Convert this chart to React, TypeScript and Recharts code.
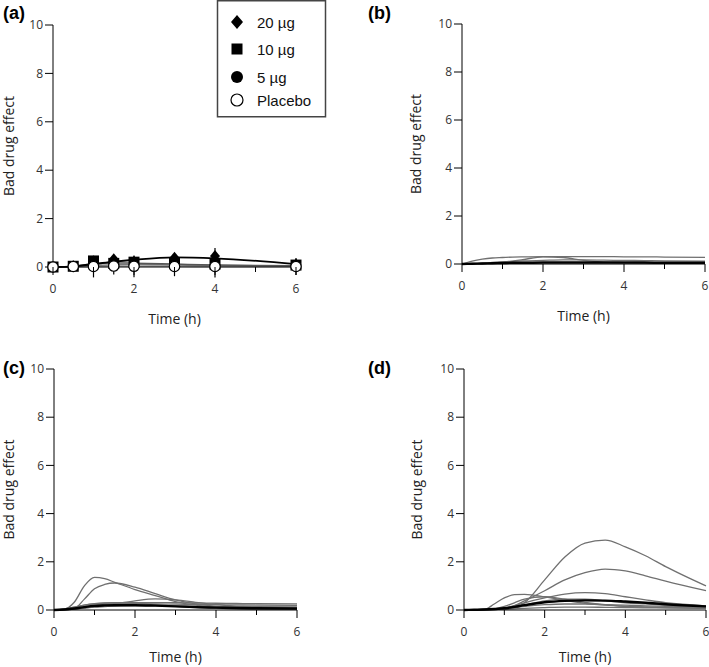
import React from 'react';
import { LineChart, Line, XAxis, YAxis, ReferenceLine, Label } from 'recharts';

// ---------- Panel (a): observed means and model fits ----------
const timesA = [0, 0.5, 1, 1.5, 2, 3, 4, 6];
const fit20 = [0, 0.03, 0.12, 0.22, 0.3, 0.4, 0.36, 0.12];
const fit10 = [0, 0.02, 0.14, 0.17, 0.16, 0.12, 0.08, 0.05];
const fit5 = [0, 0.02, 0.07, 0.09, 0.1, 0.08, 0.06, 0.04];
const fitPlacebo = [0, 0.01, 0.02, 0.03, 0.03, 0.03, 0.02, 0.02];
const obs20 = [0, 0.03, 0.15, 0.32, 0.22, 0.38, 0.45, 0.1];
const err20 = [0, 0, 0.1, 0.12, 0.1, 0.15, 0.33, 0.05];
const obs10 = [0, 0.03, 0.25, 0.15, 0.2, 0.15, 0.12, 0.08];
const obs5 = [0, 0.02, 0.1, 0.2, 0.12, 0.18, 0.2, 0.05];
const obsPlacebo = [0, 0.02, 0.02, 0.04, 0.03, 0.02, 0.02, 0.02];
const errPlacebo = [0, 0, 0.45, 0.35, 0.45, 0.4, 0.45, 0.35];

// ---------- Panels (b)-(d): simulated individual curves ----------
const timesSim = [0, 0.25, 0.5, 0.75, 1, 1.25, 1.5, 2, 2.5, 3, 3.5, 4, 4.5, 5, 6];

const b1 = [0, 0.12, 0.2, 0.25, 0.27, 0.29, 0.3, 0.31, 0.31, 0.31, 0.31, 0.3, 0.3, 0.29, 0.28];
const b2 = [0, 0.01, 0.02, 0.04, 0.07, 0.12, 0.18, 0.3, 0.27, 0.15, 0.08, 0.06, 0.05, 0.05, 0.04];
const b3 = [0, 0.02, 0.04, 0.07, 0.09, 0.11, 0.13, 0.15, 0.17, 0.17, 0.16, 0.15, 0.14, 0.13, 0.12];
const bMean = [0, 0.01, 0.02, 0.03, 0.04, 0.05, 0.05, 0.06, 0.06, 0.06, 0.06, 0.06, 0.06, 0.05, 0.05];

const c1 = [0, 0.03, 0.32, 1.0, 1.35, 1.3, 1.15, 0.85, 0.6, 0.35, 0.2, 0.1, 0.07, 0.05, 0.04];
const c2 = [0, 0.01, 0.06, 0.45, 0.88, 1.06, 1.12, 0.95, 0.68, 0.42, 0.25, 0.15, 0.1, 0.07, 0.05];
const c3 = [0, 0.01, 0.04, 0.08, 0.13, 0.18, 0.25, 0.38, 0.46, 0.42, 0.32, 0.22, 0.16, 0.12, 0.08];
const c4 = [0, 0.05, 0.12, 0.2, 0.25, 0.28, 0.3, 0.31, 0.31, 0.3, 0.29, 0.28, 0.27, 0.26, 0.25];
const c5 = [0, 0.03, 0.07, 0.14, 0.2, 0.23, 0.25, 0.26, 0.25, 0.24, 0.23, 0.22, 0.21, 0.2, 0.19];
const c6 = [0, 0.02, 0.05, 0.09, 0.12, 0.14, 0.16, 0.18, 0.18, 0.17, 0.16, 0.15, 0.14, 0.14, 0.13];
const c7 = [0, 0.04, 0.12, 0.2, 0.26, 0.29, 0.3, 0.28, 0.22, 0.15, 0.1, 0.07, 0.05, 0.04, 0.03];
const cMean = [0, 0.02, 0.06, 0.12, 0.17, 0.19, 0.2, 0.2, 0.18, 0.15, 0.12, 0.1, 0.08, 0.07, 0.06];

const d1 = [0, 0.01, 0.02, 0.03, 0.04, 0.07, 0.3, 1.25, 2.2, 2.78, 2.9, 2.62, 2.25, 1.8, 1.0];
const d2 = [0, 0.01, 0.01, 0.02, 0.05, 0.18, 0.38, 0.8, 1.25, 1.55, 1.7, 1.62, 1.42, 1.2, 0.8];
const d3 = [0, 0.01, 0.01, 0.03, 0.08, 0.18, 0.3, 0.5, 0.66, 0.72, 0.68, 0.55, 0.42, 0.3, 0.17];
const d4 = [0, 0.01, 0.02, 0.25, 0.5, 0.64, 0.65, 0.55, 0.4, 0.28, 0.2, 0.15, 0.12, 0.1, 0.07];
const d5 = [0, 0.01, 0.02, 0.05, 0.15, 0.3, 0.45, 0.55, 0.45, 0.32, 0.22, 0.15, 0.12, 0.1, 0.07];
const d6 = [0, 0.01, 0.02, 0.04, 0.08, 0.13, 0.2, 0.38, 0.45, 0.45, 0.38, 0.3, 0.25, 0.2, 0.15];
const d7 = [0, 0.01, 0.02, 0.03, 0.05, 0.1, 0.15, 0.22, 0.25, 0.25, 0.22, 0.2, 0.17, 0.15, 0.12];
const d8 = [0, 0.01, 0.01, 0.02, 0.03, 0.05, 0.07, 0.1, 0.12, 0.12, 0.11, 0.1, 0.09, 0.09, 0.08];
const dMean = [0, 0.01, 0.02, 0.04, 0.07, 0.13, 0.2, 0.32, 0.38, 0.4, 0.39, 0.35, 0.3, 0.24, 0.15];

const xTicks = [0, 1, 2, 3, 4, 5, 6];
const yTicks = [0, 2, 4, 6, 8, 10];
const legendLabels = ['20 µg', '10 µg', '5 µg', 'Placebo'];
const panelLabels = ['(a)', '(b)', '(c)', '(d)'];

const build = (times: number[], series: Record<string, number[]>) =>
  times.map((t, i) => {
    const o: any = { t };
    Object.keys(series).forEach((k) => (o[k] = series[k][i]));
    return o;
  });

const dataA = build(timesA, { fit20, fit10, fit5, fitPlacebo, obs20, obs10, obs5, obsPlacebo });
const dataB = build(timesSim, { b1, b2, b3, bMean });
const dataC = build(timesSim, { c1, c2, c3, c4, c5, c6, c7, cMean });
const dataD = build(timesSim, { d1, d2, d3, d4, d5, d6, d7, d8, dMean });

const AXIS_FONT = "'Open Sans', sans-serif";
const GRAY = '#707070';

function XTick(props: any) {
  const { x, y, payload } = props;
  const v = payload.value;
  const major = v % 2 === 0;
  return (
    <g>
      <line x1={x} x2={x} y1={y} y2={y + (major ? 8 : 5)} stroke="#000" strokeWidth={1} />
      {major && (
        <text x={x} y={y + 26} textAnchor="middle" fontSize={12} fill="#333" fontFamily={AXIS_FONT}>
          {v}
        </text>
      )}
    </g>
  );
}

function axes(xHeight: number, xLabelOffset: number, yLabelOffset: number) {
  return [
    <XAxis
      key="x"
      dataKey="t"
      type="number"
      domain={[0, 6]}
      ticks={xTicks}
      interval={0}
      tickSize={0}
      tickMargin={0}
      tickLine={false}
      tick={<XTick />}
      axisLine={{ stroke: '#000' }}
      height={xHeight}
    >
      <Label
        value="Time (h)"
        position="insideBottom"
        offset={xLabelOffset}
        style={{ fontSize: 14, fontFamily: AXIS_FONT, fill: '#222' }}
      />
    </XAxis>,
    <YAxis
      key="y"
      type="number"
      domain={[0, 10]}
      ticks={yTicks}
      interval={0}
      tickSize={8}
      tickMargin={2}
      width={45}
      tickLine={{ stroke: '#000' }}
      axisLine={{ stroke: '#000' }}
      tick={{ fontSize: 12, fill: '#333', fontFamily: AXIS_FONT }}
    >
      <Label
        value="Bad drug effect"
        angle={-90}
        position="insideLeft"
        offset={yLabelOffset}
        style={{ textAnchor: 'middle', fontSize: 14, fontFamily: AXIS_FONT, fill: '#222' }}
      />
    </YAxis>,
  ];
}

const diamondDot = (p: any) =>
  p.cx == null ? <g key={`dd${p.index}`} /> : (
    <path
      key={`dd${p.index}`}
      d={`M${p.cx},${p.cy - 6}L${p.cx + 5},${p.cy}L${p.cx},${p.cy + 6}L${p.cx - 5},${p.cy}Z`}
      fill="#000"
    />
  );
const squareDot = (p: any) =>
  p.cx == null ? <g key={`sd${p.index}`} /> : (
    <rect key={`sd${p.index}`} x={p.cx - 5.5} y={p.cy - 5.5} width={11} height={11} fill="#000" />
  );
const circleDot = (p: any) =>
  p.cx == null ? <g key={`cd${p.index}`} /> : <circle key={`cd${p.index}`} cx={p.cx} cy={p.cy} r={5} fill="#000" />;
const openDot = (p: any) =>
  p.cx == null ? <g key={`od${p.index}`} /> : (
    <circle key={`od${p.index}`} cx={p.cx} cy={p.cy} r={5.2} fill="#fff" stroke="#000" strokeWidth={1.2} />
  );

function errorBars(prefix: string, means: number[], errs: number[]) {
  return timesA
    .map((t, i) =>
      errs[i] > 0 ? (
        <ReferenceLine
          key={`${prefix}${i}`}
          segment={[
            { x: t, y: means[i] - errs[i] },
            { x: t, y: means[i] + errs[i] },
          ]}
          stroke="#000"
          strokeWidth={1.2}
          ifOverflow="visible"
        />
      ) : null
    )
    .filter(Boolean);
}

function grayLines(keys: string[]) {
  return keys.map((k) => (
    <Line
      key={k}
      dataKey={k}
      type="monotone"
      stroke={GRAY}
      strokeWidth={1.3}
      dot={false}
      activeDot={false}
      isAnimationActive={false}
    />
  ));
}

function meanLine(k: string) {
  return (
    <Line
      key={k}
      dataKey={k}
      type="monotone"
      stroke="#000"
      strokeWidth={2.4}
      dot={false}
      activeDot={false}
      isAnimationActive={false}
    />
  );
}

function Legend() {
  const markers = [
    (y: number) => <path d={`M237,${y - 7}L243,${y}L237,${y + 7}L231,${y}Z`} fill="#000" />,
    (y: number) => <rect x={231.5} y={y - 5.5} width={11} height={11} fill="#000" />,
    (y: number) => <circle cx={237} cy={y} r={6} fill="#000" />,
    (y: number) => <circle cx={237} cy={y} r={6} fill="#fff" stroke="#000" strokeWidth={1.2} />,
  ];
  const ys = [22, 49, 77, 100];
  return (
    <g>
      <rect x={217.5} y={0.75} width={108} height={116} fill="#fff" stroke="#444" strokeWidth={1.5} />
      {legendLabels.map((lab, i) => (
        <g key={lab}>
          {markers[i](ys[i])}
          <text x={257} y={ys[i] + 5.5} fontSize={15} fontFamily="'Liberation Sans', Arial, sans-serif" fill="#111">
            {lab}
          </text>
        </g>
      ))}
    </g>
  );
}

export default function App() {
  const labelPos = [
    [3, 19],
    [368, 19],
    [3, 374],
    [368, 374],
  ];
  return (
    <div style={{ position: 'absolute', left: 0, top: 0, width: 709, height: 667, background: '#fff' }}>
      <div style={{ position: 'absolute', left: 0, top: 0 }}>
        <LineChart width={354} height={333} data={dataA} margin={{ top: 25, right: 58, bottom: 6, left: 8 }}>
          {axes(60, 3, 1)}
          <Line dataKey="fitPlacebo" type="monotone" stroke="#999" strokeWidth={1.5} dot={false} activeDot={false} isAnimationActive={false} />
          <Line dataKey="fit5" type="monotone" stroke="#777" strokeWidth={1.5} dot={false} activeDot={false} isAnimationActive={false} />
          <Line dataKey="fit10" type="monotone" stroke="#555" strokeWidth={1.5} dot={false} activeDot={false} isAnimationActive={false} />
          <Line dataKey="fit20" type="monotone" stroke="#000" strokeWidth={1.8} dot={false} activeDot={false} isAnimationActive={false} />
          <Line dataKey="obs20" stroke="none" dot={diamondDot} activeDot={false} isAnimationActive={false} />
          <Line dataKey="obs10" stroke="none" dot={squareDot} activeDot={false} isAnimationActive={false} />
          <Line dataKey="obs5" stroke="none" dot={circleDot} activeDot={false} isAnimationActive={false} />
          <Line dataKey="obsPlacebo" stroke="none" dot={openDot} activeDot={false} isAnimationActive={false} />
          {errorBars('e20-', obs20, err20)}
          {errorBars('ep-', obsPlacebo, errPlacebo)}
        </LineChart>
      </div>
      <div style={{ position: 'absolute', left: 354, top: 0 }}>
        <LineChart width={355} height={333} data={dataB} margin={{ top: 24, right: 4, bottom: 9, left: 63 }}>
          {axes(60, 3, -1)}
          {grayLines(['b1', 'b2', 'b3'])}
          {meanLine('bMean')}
        </LineChart>
      </div>
      <div style={{ position: 'absolute', left: 0, top: 333 }}>
        <LineChart width={354} height={334} data={dataC} margin={{ top: 36, right: 57, bottom: 0, left: 9 }}>
          {axes(57, 5, 0)}
          {grayLines(['c1', 'c2', 'c3', 'c4', 'c5', 'c6', 'c7'])}
          {meanLine('cMean')}
        </LineChart>
      </div>
      <div style={{ position: 'absolute', left: 354, top: 333 }}>
        <LineChart width={355} height={334} data={dataD} margin={{ top: 36, right: 3, bottom: 0, left: 65 }}>
          {axes(57, 5, -2)}
          {grayLines(['d1', 'd2', 'd3', 'd4', 'd5', 'd6', 'd7', 'd8'])}
          {meanLine('dMean')}
        </LineChart>
      </div>
      <svg width={709} height={667} style={{ position: 'absolute', left: 0, top: 0, pointerEvents: 'none' }}>
        {panelLabels.map((l, i) => (
          <text
            key={l}
            x={labelPos[i][0]}
            y={labelPos[i][1]}
            fontSize={18}
            fontWeight="bold"
            fontFamily="'Liberation Sans', Arial, sans-serif"
            fill="#000"
          >
            {l}
          </text>
        ))}
        <Legend />
      </svg>
    </div>
  );
}
